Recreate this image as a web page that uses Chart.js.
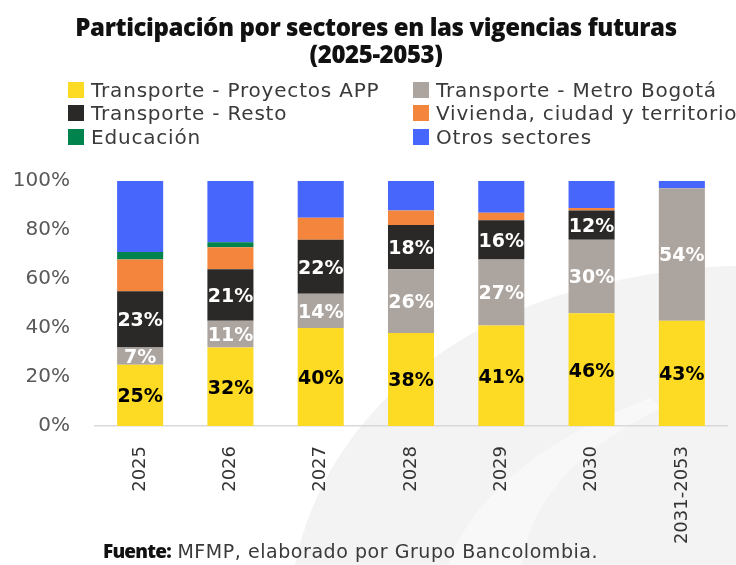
<!DOCTYPE html>
<html>
<head>
<meta charset="utf-8">
<script src="https://cdn.jsdelivr.net/npm/chart.js@4.4.1/dist/chart.umd.min.js"></script>
<style>
    html, body { margin: 0; padding: 0; background: #fff; }
    #lienzo { position: relative; width: 736px; height: 565px; overflow: hidden; }
    #fondo { position: absolute; left: 0; top: 0; }
    #grafica { position: absolute; left: 0; top: 0; }
    #titulo {
        position: absolute; left: 0; top: 13px; width: 752px; text-align: center;
        font-family: 'Open Sans', sans-serif; font-weight: 800; font-size: 24px; line-height: 27px;
        color: #111; letter-spacing: -0.4px;
    }
    #leyenda {
        position: absolute; left: 68px; top: 78px;
        display: grid; grid-template-columns: 345px 330px; grid-auto-rows: 23.5px;
        font-family: 'DejaVu Sans', sans-serif; font-size: 20px; color: #3a3a3a;
    }
    .item { display: flex; align-items: center; white-space: nowrap; letter-spacing: 0.8px; }
    .cuadro { width: 16px; height: 16px; margin-right: 7px; flex: none; }
    #fuente {
        position: absolute; left: 103px; top: 538px;
        font-family: 'DejaVu Sans', sans-serif; font-size: 19px; color: #3a3a3a; letter-spacing: 0.55px;
    }
    #fuente b { font-family: 'Open Sans', sans-serif; font-weight: 800; color: #111; letter-spacing: -0.8px; }
</style>
</head>
<body>
<div id="lienzo">
    <svg id="fondo" width="736" height="565">
        <path d="M295 565 C 320 440, 420 340, 560 295 C 640 272, 700 266, 736 266 L 736 565 Z" fill="#f3f3f3"/>
        <path d="M448 565 C 470 500, 540 440, 650 398 L 662 408 C 570 452, 530 505, 522 565 Z" fill="#f8f8f8"/>
    </svg>
    <canvas id="grafica" width="736" height="565"></canvas>
    <div id="titulo">Participación por sectores en las vigencias futuras<br>(2025-2053)</div>
    <div id="leyenda"></div>
    <div id="fuente"><b>Fuente:</b> MFMP, elaborado por Grupo Bancolombia.</div>
</div>
<script>
const categorias = ['2025', '2026', '2027', '2028', '2029', '2030', '2031-2053'];
const transporteApp = [25, 32, 40, 38, 41, 46, 43];
const metroBogota = [7, 11, 14, 26, 27, 30, 54];
const transporteResto = [23, 21, 22, 18, 16, 12, 0];
const vivienda = [13, 9, 9, 6, 3, 1, 0];
const educacion = [3, 2, 0, 0, 0, 0, 0];
const otrosSectores = [29, 25, 15, 12, 13, 11, 3];
const ticksY = [0, 20, 40, 60, 80, 100];

const series = [
    { label: 'Transporte - Proyectos APP', data: transporteApp, backgroundColor: '#fddb25' },
    { label: 'Transporte - Metro Bogotá', data: metroBogota, backgroundColor: '#aca49e' },
    { label: 'Transporte - Resto', data: transporteResto, backgroundColor: '#2b2927' },
    { label: 'Vivienda, ciudad y territorio', data: vivienda, backgroundColor: '#f4853c' },
    { label: 'Educación', data: educacion, backgroundColor: '#00834c' },
    { label: 'Otros sectores', data: otrosSectores, backgroundColor: '#4666fc' }
];

// etiquetas de porcentaje dentro de las tres primeras series
const etiquetas = {
    id: 'etiquetas',
    afterDatasetsDraw(chart) {
        const ctx = chart.ctx;
        ctx.save();
        ctx.textAlign = 'center';
        ctx.textBaseline = 'middle';
        ctx.font = 'bold 19px "DejaVu Sans"';
        [0, 1, 2].forEach(i => {
            ctx.fillStyle = i === 0 ? '#000' : '#fff';
            chart.getDatasetMeta(i).data.forEach((barra, j) => {
                const v = chart.data.datasets[i].data[j];
                if (!v) return;
                const p = barra.getProps(['x', 'y', 'base'], true);
                ctx.fillText(v + '%', p.x, (p.y + p.base) / 2 + 2);
            });
        });
        ctx.restore();
    }
};

const grafica = new Chart(document.getElementById('grafica').getContext('2d'), {
    type: 'bar',
    data: {
        labels: categorias,
        datasets: series.map(s => ({ ...s, barPercentage: 0.51, categoryPercentage: 1 }))
    },
    options: {
        responsive: false,
        animation: false,
        layout: { padding: { top: 181, right: 9, bottom: 0, left: 0 } },
        plugins: {
            legend: { display: false },
            tooltip: { enabled: false }
        },
        scales: {
            x: {
                stacked: true,
                grid: { display: false },
                border: { color: '#d9d9d9', width: 1.5 },
                ticks: {
                    autoSkip: false, minRotation: 90, maxRotation: 90, padding: 12,
                    color: '#333', font: { family: 'DejaVu Sans', size: 18 }
                },
                afterFit: s => { s.height = 139; }
            },
            y: {
                stacked: true,
                min: 0, max: 100,
                grid: { display: false },
                border: { display: false },
                afterBuildTicks: s => { s.ticks = ticksY.map(v => ({ value: v })); },
                ticks: {
                    padding: 17, color: '#595959',
                    font: { family: 'DejaVu Sans', size: 20 },
                    callback: v => v + '%'
                },
                afterFit: s => { s.width = 95; }
            }
        }
    },
    plugins: [etiquetas]
});

// leyenda en dos columnas, generada desde las series
const leyenda = document.getElementById('leyenda');
grafica.data.datasets.forEach(ds => {
    const item = document.createElement('div');
    item.className = 'item';
    const cuadro = document.createElement('span');
    cuadro.className = 'cuadro';
    cuadro.style.background = ds.backgroundColor;
    item.appendChild(cuadro);
    item.appendChild(document.createTextNode(ds.label));
    leyenda.appendChild(item);
});
</script>
</body>
</html>
